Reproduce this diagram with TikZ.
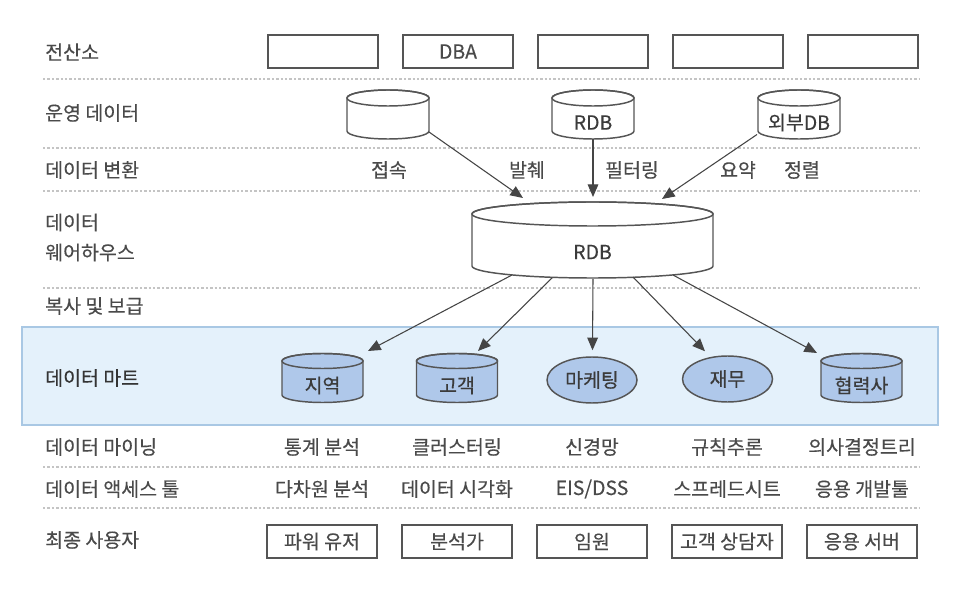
\documentclass[tikz,border=0pt]{standalone}
\usepackage{fontspec}
\newfontfamily\kr[FakeBold=0.35]{Noto Sans CJK KR}
\usetikzlibrary{arrows.meta,calc,shapes.geometric}
\definecolor{txt}{HTML}{4A4A4A}
\definecolor{boxc}{HTML}{555555}
\definecolor{arrc}{HTML}{454545}
\definecolor{sepc}{HTML}{C4C4C4}
\definecolor{bandfill}{HTML}{E4F1FB}
\definecolor{bandline}{HTML}{A9C8E4}
\definecolor{dbfill}{HTML}{AFC8EA}
\newcommand\krf{\kr\fontsize{14.6pt}{17pt}\selectfont}
\newcommand{\dbcyl}[8]{%
  \draw[cylline, fill=#7] (#2-#5,-#3) -- (#2-#5,-#4)
    arc[start angle=180,end angle=360,x radius=#5,y radius=#6]
    -- (#2+#5,-#3)
    arc[start angle=0,end angle=180,x radius=#5,y radius=#6] -- cycle;
  \draw[cylline] (#2,-#3) ellipse[x radius=#5,y radius=#6];
  \node[cylt] (#1) at (#2,{-(#3+#4+2*#6)/2}) {#8};
}
\begin{document}
\begin{tikzpicture}[x=0.75pt,y=0.75pt,
  lbl/.style={text=txt, font=\krf, inner sep=0pt, anchor=west},
  captxt/.style={text=txt, font=\krf, inner sep=0pt},
  cylt/.style={text=txt!80!black, font=\krf, inner sep=0pt},
  userbox/.style={draw=boxc, line width=1.1pt, minimum width=82.5pt, minimum height=24.75pt, text=txt, font=\krf, inner sep=0pt},
  martell/.style={ellipse, draw=boxc, line width=1.1pt, fill=dbfill, minimum width=67.5pt, minimum height=34.5pt, inner sep=0pt, text=txt!80!black, font=\krf},
  arr/.style={draw=arrc, line width=0.8pt, -{Triangle[length=9.5pt,width=8pt]}},
  sep/.style={draw=sepc, line width=0.8pt, dash pattern=on 1.8pt off 1.5pt},
  cylline/.style={draw=boxc, line width=1.1pt},
  band/.style={fill=bandfill, draw=bandline, line width=0.8pt}
]
\useasboundingbox (0,0) rectangle (957,-598);
\fill[white] (0,0) rectangle (957,-598);

% data mart band
\draw[band] (22,-327) rectangle (938,-425);

% separators
\foreach \yy in {79,148,191,288,467,508} \draw[sep] (43,-\yy) -- (920,-\yy);

% left labels
\node[lbl] (l1) at (45,-52) {전산소};
\node[lbl] (l2) at (45,-113) {운영 데이터};
\node[lbl] (l3) at (45,-170) {데이터 변환};
\node[lbl, align=left, font=\kr\fontsize{14.6pt}{22.5pt}\selectfont] (l4) at (45,-237.5) {데이터\\웨어하우스};
\node[lbl] (l5) at (45,-306) {복사 및 보급};
\node[lbl, text=txt!70!black] (l6) at (45,-378) {데이터 마트};
\node[lbl] (l7) at (45,-447) {데이터 마이닝};
\node[lbl] (l8) at (45,-489) {데이터 액세스 툴};
\node[lbl] (l9) at (45,-540) {최종 사용자};

% computer centre boxes
\node[userbox] (t1) at (323,-51.5) {};
\node[userbox] (t2) at (458,-51.5) {DBA};
\node[userbox] (t3) at (593,-51.5) {};
\node[userbox] (t4) at (728,-51.5) {};
\node[userbox] (t5) at (863,-51.5) {};

% operational data
\dbcyl{o1}{388}{98}{131}{41}{8}{white}{}
\dbcyl{o2}{593}{98}{131}{41}{8}{white}{RDB}
\dbcyl{o3}{799}{98}{131}{41}{8}{white}{외부DB}

% transformation labels
\node[captxt] (c1) at (389,-170) {접속};
\node[captxt] (c2) at (527,-170) {발췌};
\node[captxt] (c3) at (632,-170) {필터링};
\node[captxt] (c4) at (738,-170) {요약};
\node[captxt] (c5) at (802,-170) {정렬};

% warehouse
\dbcyl{dw}{592.5}{214}{266}{120.5}{12}{white}{RDB}

\draw[arr] ($(o1)+(41,-9.5)$) -- ($(dw)+(-69.5,54)$);
\draw[arr] ($(o2)+(0,-16.5)$) -- ($(dw)+(0.5,55)$);
\draw[arr] ($(o3)+(-42,-12)$) -- ($(dw)+(69.5,53)$);

% data marts
\dbcyl{m1}{322.5}{361}{395}{40.5}{7.5}{dbfill}{지역}
\dbcyl{m2}{457}{361}{395}{40.5}{7.5}{dbfill}{고객}
\node[martell] (m3) at (592,-380) {마케팅};
\node[martell] (m4) at (727.5,-379) {재무};
\dbcyl{m5}{861.5}{361}{395}{40.5}{7.5}{dbfill}{협력사}

\draw[arr] ($(dw)+(-80.5,-23)$) -- ($(m1)+(45.5,34.5)$);
\draw[arr] ($(dw)+(-40.5,-26)$) -- ($(m2)+(21,34.5)$);
\draw[arr] ($(dw)+(0.5,-27)$) -- ($(m3.north)+(0.5,6)$);
\draw[arr] ($(dw)+(40.5,-25)$) -- ($(m4.north)+(-22.5,4)$);
\draw[arr] ($(dw)+(80.5,-23)$) -- ($(m5)+(-44.5,32.5)$);

% data mining
\node[captxt] (d1) at (322,-447) {통계 분석};
\node[captxt] (d2) at (457,-447) {클러스터링};
\node[captxt] (d3) at (592,-447) {신경망};
\node[captxt] (d4) at (727,-447) {규칙추론};
\node[captxt] (d5) at (862,-447) {의사결정트리};

% access tools
\node[captxt] (a1) at (322,-489) {다차원 분석};
\node[captxt] (a2) at (457,-489) {데이터 시각화};
\node[captxt] (a3) at (592,-489) {EIS/DSS};
\node[captxt] (a4) at (727,-489) {스프레드시트};
\node[captxt] (a5) at (862,-489) {응용 개발툴};

% end users
\node[userbox] (u1) at (322,-541.5) {파워 유저};
\node[userbox] (u2) at (457,-541.5) {분석가};
\node[userbox] (u3) at (592,-541.5) {임원};
\node[userbox] (u4) at (727,-541.5) {고객 상담자};
\node[userbox] (u5) at (862,-541.5) {응용 서버};
\end{tikzpicture}
\end{document}
